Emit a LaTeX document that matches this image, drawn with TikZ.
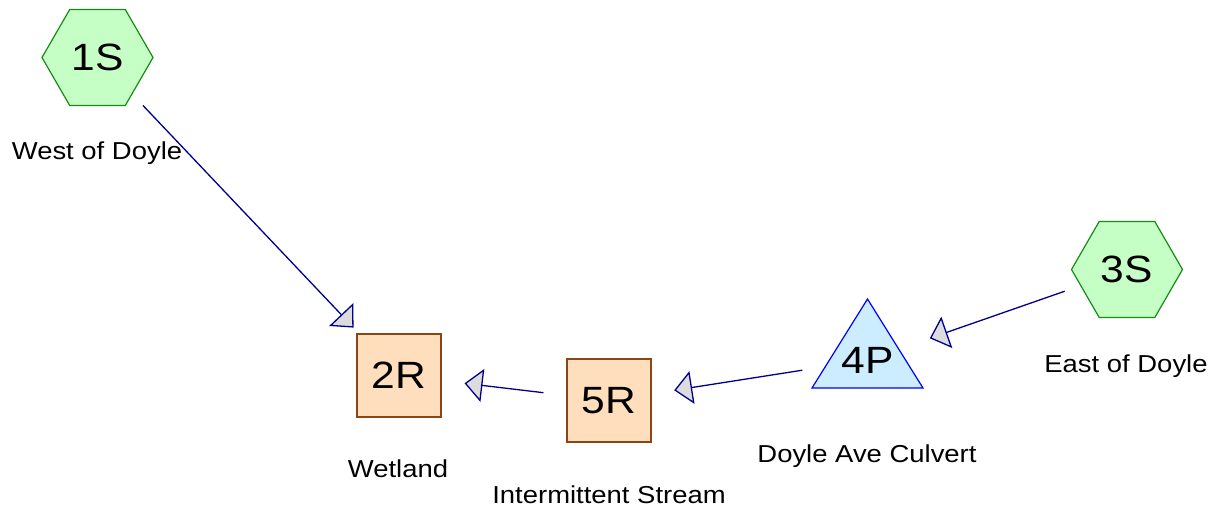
\documentclass[tikz,border=0pt]{standalone}
\usepackage{fontspec}
\setmainfont{Liberation Sans}
\newfontfamily\lblfont[FakeStretch=1.12]{Liberation Sans}
\usetikzlibrary{shapes.geometric,arrows.meta}
\definecolor{hexfill}{RGB}{198,255,198}
\definecolor{hexline}{RGB}{20,140,20}
\definecolor{reachfill}{RGB}{255,222,190}
\definecolor{reachline}{RGB}{140,70,20}
\definecolor{pondfill}{RGB}{204,236,255}
\definecolor{pondline}{RGB}{0,0,255}
\definecolor{flowline}{RGB}{0,0,140}
\definecolor{headfill}{RGB}{220,220,220}
\begin{document}
\begin{tikzpicture}[x=1pt,y=-1pt,
  hexa/.style={regular polygon, regular polygon sides=6, minimum size=111pt, inner sep=0pt,
    draw=hexline, fill=hexfill, line width=1.2pt, font=\lblfont\fontsize{38}{42}\selectfont},
  reach/.style={rectangle, minimum width=84pt, minimum height=83pt, inner sep=0pt,
    draw=reachline, fill=reachfill, line width=1.2pt, font=\lblfont\fontsize{38}{42}\selectfont},
  pond/.style={draw=pondline, fill=pondfill, line width=1.2pt, line join=miter},
  pondtext/.style={inner sep=0pt, font=\lblfont\fontsize{38}{42}\selectfont},
  flow/.style={draw=flowline, line width=1.3pt,
    -{Triangle[length=18pt,width=33pt,fill=headfill]},
    shorten <=66pt, shorten >=66pt},
  lbl/.style={anchor=base, inner sep=0pt, font=\lblfont\fontsize{24.5}{28}\selectfont}]
\useasboundingbox (0,0) rectangle (1219,512);

\node[hexa] (1S) at (97.5,57.5) {1S};
\node[hexa] (3S) at (1127,269.5) {3S};
\node[reach] (2R) at (399,375.5) {2R};
\node[reach] (5R) at (609,400.5) {5R};
\draw[pond] (867.5,299) -- (923,388) -- (812,388) -- cycle;
\node[pondtext] (4P) at (867.5,360) {4P};

\node[lbl] (l1S) at (97,159.3) {West of Doyle};
\node[lbl] (l2R) at (398,477) {Wetland};
\node[lbl] (l5R) at (609,503) {Intermittent Stream};
\node[lbl] (l4P) at (867,462) {Doyle Ave Culvert};
\node[lbl] (l3S) at (1126,372) {East of Doyle};

\draw[flow] (1S.center) -- (2R.center);
\draw[flow] (5R.center) -- (2R.center);
\draw[flow] (4P.center) -- (5R.center);
\draw[flow] (3S.center) -- (4P.center);
\end{tikzpicture}
\end{document}
